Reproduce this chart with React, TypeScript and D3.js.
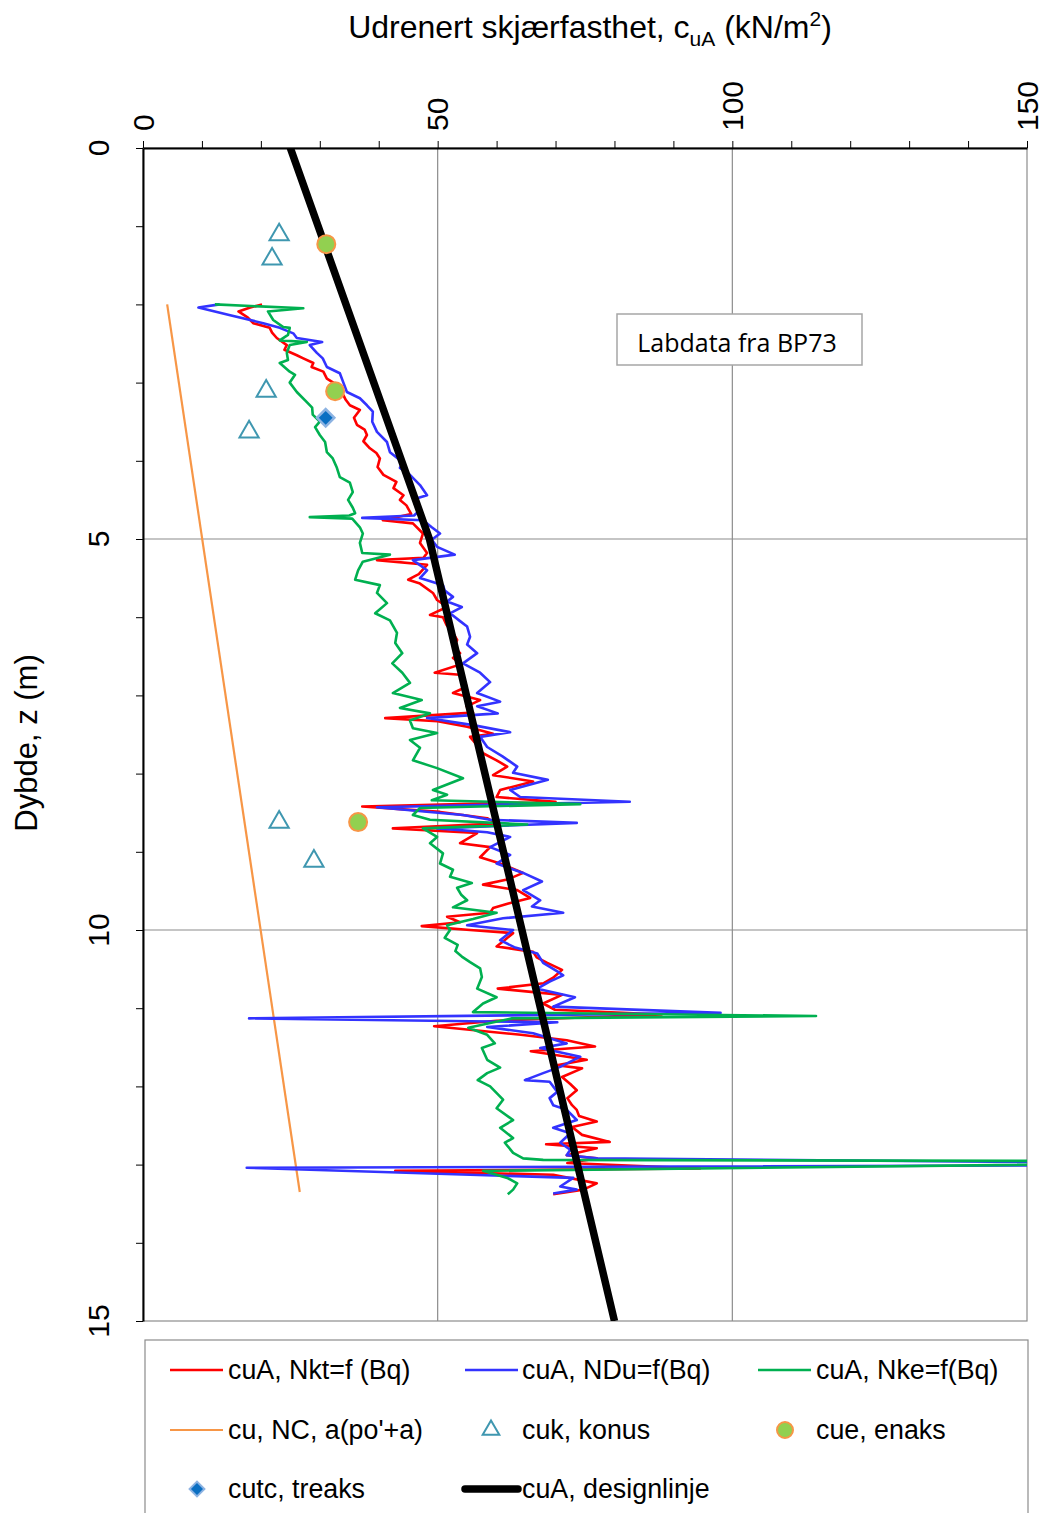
import React, { useRef, useEffect } from 'react'
import * as d3 from 'd3'

// depth (m), value (kN/m2)
const nktSeries: [number, number][] = [
  [2.00, 20.2], [2.04, 18.2], [2.09, 16.2], [2.17, 17.8], [2.24, 18.7], [2.30, 21.5], [2.36, 21.9], [2.43, 22.7],
  [2.52, 24.4], [2.58, 24.0], [2.65, 26.1], [2.69, 27.2], [2.75, 28.9], [2.80, 28.6], [2.86, 30.6], [2.95, 31.2],
  [3.03, 32.9], [3.10, 33.1], [3.16, 34.0], [3.22, 34.4], [3.29, 35.1], [3.35, 36.8], [3.45, 35.8], [3.54, 36.3],
  [3.60, 37.6], [3.67, 38.0], [3.75, 37.4], [3.84, 38.5], [3.90, 39.6], [3.97, 40.2], [4.08, 39.8], [4.18, 40.8],
  [4.27, 43.0], [4.35, 42.5], [4.44, 44.2], [4.50, 43.6], [4.57, 44.7], [4.68, 45.5], [4.76, 40.7], [4.80, 45.8],
  [4.93, 47.5], [5.05, 47.0], [5.18, 48.2], [5.24, 47.6], [5.27, 39.7], [5.33, 48.2], [5.45, 46.8], [5.52, 45.0],
  [5.57, 47.0], [5.69, 49.2], [5.78, 49.9], [5.87, 51.6], [5.97, 48.7], [6.00, 50.9], [6.10, 51.5], [6.20, 52.6],
  [6.29, 53.3], [6.38, 52.8], [6.46, 53.8], [6.52, 52.6], [6.60, 54.0], [6.71, 49.5], [6.74, 54.3], [6.89, 54.9],
  [6.97, 52.6], [7.06, 57.2], [7.14, 54.9], [7.22, 56.0], [7.29, 41.1], [7.33, 50.0], [7.40, 55.0], [7.49, 59.4],
  [7.53, 55.5], [7.62, 56.5], [7.74, 57.7], [7.83, 60.0], [7.91, 61.8], [8.02, 59.4], [8.10, 66.2], [8.21, 60.6],
  [8.30, 60.0], [8.36, 70.0], [8.42, 37.2], [8.49, 50.4], [8.57, 58.4], [8.64, 60.0], [8.70, 42.4], [8.76, 56.7],
  [8.89, 53.8], [8.94, 58.9], [9.07, 57.2], [9.15, 60.6], [9.27, 64.5], [9.35, 62.0], [9.42, 57.7], [9.49, 63.5],
  [9.59, 65.7], [9.66, 62.0], [9.72, 59.4], [9.78, 58.9], [9.83, 51.6], [9.90, 53.8], [9.95, 47.3], [10.00, 55.5],
  [10.04, 62.8], [10.12, 61.5], [10.21, 60.0], [10.28, 66.2], [10.35, 66.8], [10.42, 68.6], [10.51, 71.1], [10.61, 69.6],
  [10.68, 68.0], [10.75, 60.2], [10.83, 71.1], [10.94, 67.9], [11.02, 69.9], [11.08, 88.0], [11.16, 60.0], [11.23, 49.4],
  [11.34, 64.1], [11.41, 71.9], [11.49, 76.7], [11.55, 65.8], [11.66, 75.3], [11.73, 70.2], [11.77, 74.5], [11.88, 71.1],
  [11.97, 72.5], [12.05, 73.6], [12.15, 72.0], [12.24, 72.8], [12.30, 73.6], [12.38, 74.0], [12.45, 77.0], [12.52, 72.8],
  [12.62, 74.5], [12.71, 79.2], [12.74, 68.4], [12.79, 77.0], [12.88, 71.9], [12.92, 77.0], [12.98, 72.0], [13.05, 94.5],
  [13.08, 42.8], [13.13, 69.6], [13.24, 77.0], [13.32, 74.7], [13.38, 69.6],
]

const nduSeries: [number, number][] = [
  [2.00, 13.0], [2.04, 9.4], [2.14, 14.8], [2.24, 20.4], [2.30, 23.2], [2.37, 25.5], [2.43, 26.1], [2.48, 30.4],
  [2.52, 28.3], [2.62, 29.5], [2.69, 30.5], [2.80, 31.2], [2.88, 33.4], [3.00, 34.0], [3.12, 34.6], [3.20, 36.8],
  [3.29, 38.0], [3.37, 39.0], [3.50, 38.9], [3.63, 39.7], [3.76, 41.4], [3.89, 41.9], [4.02, 44.1], [4.09, 43.6],
  [4.18, 45.3], [4.31, 47.0], [4.44, 48.2], [4.48, 46.5], [4.63, 47.0], [4.70, 46.0], [4.73, 37.2], [4.76, 47.5],
  [4.85, 49.0], [4.93, 50.4], [5.01, 49.0], [5.10, 49.9], [5.20, 52.9], [5.27, 45.8], [5.40, 48.2], [5.50, 47.0],
  [5.59, 50.9], [5.66, 51.2], [5.74, 52.6], [5.80, 51.6], [5.87, 54.1], [5.95, 52.1], [6.05, 53.8], [6.12, 55.0],
  [6.25, 55.5], [6.35, 55.0], [6.46, 56.7], [6.59, 54.3], [6.71, 57.2], [6.83, 58.9], [6.97, 56.7], [7.08, 60.6],
  [7.14, 56.7], [7.23, 60.2], [7.29, 48.2], [7.38, 56.0], [7.47, 62.3], [7.53, 57.2], [7.66, 58.4], [7.78, 61.0],
  [7.91, 63.5], [7.99, 62.8], [8.08, 68.7], [8.21, 62.3], [8.30, 64.0], [8.36, 82.6], [8.43, 39.7], [8.53, 54.3],
  [8.59, 58.9], [8.63, 73.6], [8.70, 49.9], [8.75, 58.4], [8.81, 62.3], [8.94, 58.9], [9.04, 62.3], [9.15, 60.0],
  [9.27, 64.5], [9.38, 67.7], [9.49, 64.5], [9.62, 67.4], [9.70, 66.0], [9.78, 71.3], [9.85, 61.1], [9.94, 55.0],
  [10.00, 62.8], [10.13, 60.6], [10.22, 63.0], [10.30, 66.9], [10.42, 67.9], [10.53, 70.3], [10.58, 71.3], [10.66, 69.0],
  [10.75, 66.9], [10.86, 73.3], [10.98, 69.6], [11.06, 98.0], [11.13, 18.0], [11.18, 70.3], [11.24, 58.4], [11.32, 66.2],
  [11.45, 71.9], [11.51, 67.4], [11.62, 74.2], [11.75, 70.8], [11.83, 67.9], [11.92, 64.8], [11.94, 69.0], [12.07, 70.3],
  [12.15, 69.0], [12.24, 69.6], [12.30, 71.9], [12.43, 73.6], [12.53, 69.6], [12.60, 72.5], [12.72, 70.8], [12.81, 72.5],
  [12.88, 71.9], [12.92, 77.0], [13.00, 200], [13.04, 17.6], [13.17, 73.0], [13.28, 70.8], [13.32, 73.6], [13.37, 69.6],
]

const nkeSeries: [number, number][] = [
  [2.00, 12.2], [2.05, 27.2], [2.09, 21.2], [2.20, 22.1], [2.29, 23.8], [2.30, 24.9], [2.39, 24.6], [2.46, 23.2],
  [2.48, 27.8], [2.52, 24.9], [2.62, 24.4], [2.71, 24.6], [2.75, 23.2], [2.86, 24.9], [2.90, 25.8], [3.00, 24.9],
  [3.12, 26.1], [3.25, 27.8], [3.32, 28.7], [3.41, 28.8], [3.50, 30.0], [3.57, 29.2], [3.67, 30.0], [3.76, 30.9],
  [3.89, 31.2], [3.97, 32.2], [4.09, 32.9], [4.21, 33.4], [4.28, 35.1], [4.40, 35.6], [4.50, 34.8], [4.60, 35.6],
  [4.67, 36.0], [4.70, 35.0], [4.72, 28.3], [4.74, 35.5], [4.85, 36.8], [4.93, 37.3], [5.05, 36.8], [5.18, 37.2],
  [5.20, 41.9], [5.29, 37.3], [5.40, 36.5], [5.52, 36.0], [5.59, 40.2], [5.69, 39.7], [5.82, 41.4], [5.95, 39.4],
  [6.04, 41.9], [6.12, 42.5], [6.20, 43.1], [6.33, 42.8], [6.46, 44.0], [6.59, 42.3], [6.71, 44.0], [6.84, 45.3],
  [6.97, 42.4], [7.06, 47.3], [7.16, 43.6], [7.23, 48.7], [7.32, 45.3], [7.42, 45.8], [7.48, 49.9], [7.57, 45.3],
  [7.67, 47.0], [7.83, 45.8], [7.93, 49.9], [8.06, 54.3], [8.21, 49.2], [8.27, 51.6], [8.34, 49.0], [8.39, 74.2],
  [8.44, 47.0], [8.53, 45.8], [8.59, 48.7], [8.65, 65.2], [8.70, 47.5], [8.81, 49.9], [8.89, 48.7], [9.02, 50.9],
  [9.15, 50.4], [9.23, 52.6], [9.32, 52.1], [9.40, 55.8], [9.46, 53.3], [9.55, 54.0], [9.62, 55.0], [9.71, 52.6],
  [9.78, 60.0], [9.86, 56.0], [9.94, 51.6], [10.00, 52.1], [10.10, 51.2], [10.19, 53.4], [10.27, 53.0], [10.34, 54.1],
  [10.41, 55.5], [10.49, 57.2], [10.60, 57.5], [10.75, 56.7], [10.86, 60.0], [10.94, 57.7], [11.05, 56.0], [11.10, 114.2],
  [11.13, 62.6], [11.25, 55.2], [11.34, 58.4], [11.45, 59.7], [11.51, 57.5], [11.66, 58.4], [11.76, 60.6], [11.83, 58.4],
  [11.92, 56.8], [12.00, 58.9], [12.13, 60.6], [12.17, 61.1], [12.28, 60.0], [12.43, 62.8], [12.53, 60.6], [12.66, 62.8],
  [12.72, 61.4], [12.85, 62.8], [12.92, 64.5], [12.94, 67.9], [12.96, 200], [13.08, 57.7], [13.17, 61.8], [13.24, 63.5],
  [13.32, 62.8], [13.38, 61.9],
]

const ncSeries: [number, number][] = [[2.0, 4.1], [13.35, 26.6]]
const designSeries: [number, number][] = [[0, 25], [5, 48.6], [15, 80]]

const cukDepth = [1.11, 1.42, 3.11, 3.63, 8.62, 9.12]
const cukValue = [23.1, 21.9, 20.9, 18.0, 23.1, 29.0]
const cueDepth = [1.23, 3.11, 8.62]
const cueValue = [31.1, 32.6, 36.5]
const cutcDepth = [3.45]
const cutcValue = [31.0]

const xTicks = [0, 50, 100, 150]
const yTicks = [0, 5, 10, 15]

const W = 1043, H = 1513
const FONT = "'Liberation Sans', Arial, sans-serif"

const App = () => {
  const ref = useRef<SVGSVGElement>(null)

  useEffect(() => {
    const svg = d3.select(ref.current)
    svg.selectAll('*').remove()

    const x = d3.scaleLinear().domain([0, 150]).range([143, 1027])
    const y = d3.scaleLinear().domain([0, 15]).range([148, 1321])

    svg.append('rect').attr('width', W).attr('height', H).attr('fill', '#fff')

    svg.append('defs').append('clipPath').attr('id', 'plotclip')
      .append('rect').attr('x', x(0)).attr('y', y(0))
      .attr('width', x(150) - x(0)).attr('height', y(15) - y(0))

    // grid
    svg.append('g').selectAll('line').data([50, 100]).join('line')
      .attr('x1', d => x(d)).attr('x2', d => x(d)).attr('y1', y(0)).attr('y2', y(15))
      .attr('stroke', '#8c8c8c').attr('stroke-width', 1.2)
    svg.append('g').selectAll('line').data([5, 10]).join('line')
      .attr('x1', x(0)).attr('x2', x(150)).attr('y1', d => y(d)).attr('y2', d => y(d))
      .attr('stroke', '#8c8c8c').attr('stroke-width', 1.2)
    svg.append('rect').attr('x', x(0)).attr('y', y(0))
      .attr('width', x(150) - x(0)).attr('height', y(15) - y(0))
      .attr('fill', 'none').attr('stroke', '#8c8c8c').attr('stroke-width', 1.2)

    // axes
    const gx = svg.append('g').attr('transform', `translate(0,${y(0)})`)
      .call(d3.axisTop(x).tickValues(d3.range(0, 151, 10)).tickSize(7).tickSizeOuter(0).tickFormat(() => ''))
    const gy = svg.append('g').attr('transform', `translate(${x(0)},0)`)
      .call(d3.axisLeft(y).tickValues(d3.range(0, 16, 1)).tickSize(7).tickSizeOuter(0).tickFormat(() => ''))
    ;[gx, gy].forEach(g => {
      g.select('.domain').attr('stroke', '#000').attr('stroke-width', 2)
      g.selectAll('.tick line').attr('stroke', '#000').attr('stroke-width', 1)
    })

    svg.append('g').selectAll('text').data(xTicks).join('text')
      .attr('transform', d => `translate(${x(d)},131) rotate(-90)`)
      .attr('dominant-baseline', 'central')
      .attr('font-family', FONT).attr('font-size', 30).text(d => d)
    svg.append('g').selectAll('text').data(yTicks).join('text')
      .attr('transform', d => `translate(98,${y(d)}) rotate(-90)`)
      .attr('text-anchor', 'middle').attr('dominant-baseline', 'central')
      .attr('font-family', FONT).attr('font-size', 30).text(d => d)

    // titles
    const t = svg.append('text').attr('x', 590).attr('y', 38).attr('text-anchor', 'middle')
      .attr('font-family', FONT).attr('font-size', 32)
    t.append('tspan').text('Udrenert skjærfasthet, c')
    t.append('tspan').attr('font-size', 21).attr('dy', 8).text('uA')
    t.append('tspan').attr('dy', -8).text(' (kN/m')
    t.append('tspan').attr('font-size', 21).attr('dy', -12).text('2')
    t.append('tspan').attr('dy', 12).text(')')

    svg.append('text').attr('transform', 'translate(26,743) rotate(-90)')
      .attr('text-anchor', 'middle').attr('dominant-baseline', 'central')
      .attr('font-family', FONT).attr('font-size', 31).text('Dybde, z (m)')

    // series
    const line = d3.line<[number, number]>().x(d => x(d[1])).y(d => y(d[0]))
    const plot = svg.append('g').attr('clip-path', 'url(#plotclip)')
    plot.append('path').attr('d', line(ncSeries)).attr('fill', 'none')
      .attr('stroke', '#f79646').attr('stroke-width', 2.2)
    const series: [[number, number][], string][] = [
      [nktSeries, '#ff0000'], [nduSeries, '#3333ff'], [nkeSeries, '#00b050'],
    ]
    series.forEach(([data, color]) => {
      plot.append('path').attr('d', line(data)).attr('fill', 'none')
        .attr('stroke', color).attr('stroke-width', 2.6).attr('stroke-linejoin', 'round')
    })

    const tri = d3.symbol(d3.symbolTriangle, 160)
    const sq = d3.symbol(d3.symbolSquare, 150)
    plot.append('g').selectAll('path').data(cukDepth).join('path')
      .attr('transform', (d, i) => `translate(${x(cukValue[i])},${y(d)})`)
      .attr('d', tri()).attr('fill', 'none').attr('stroke', '#3f97b0').attr('stroke-width', 2)
    plot.append('g').selectAll('path').data(cutcDepth).join('path')
      .attr('transform', (d, i) => `translate(${x(cutcValue[i])},${y(d)}) rotate(45)`)
      .attr('d', sq()).attr('fill', '#0a6fc2').attr('stroke', '#8db3e2').attr('stroke-width', 2.5)

    plot.append('path').attr('d', line(designSeries)).attr('fill', 'none')
      .attr('stroke', '#000').attr('stroke-width', 7.5)

    plot.append('g').selectAll('circle').data(cueDepth).join('circle')
      .attr('cx', (d, i) => x(cueValue[i])).attr('cy', d => y(d)).attr('r', 9)
      .attr('fill', '#92d050').attr('stroke', '#f79646').attr('stroke-width', 2)

    // label box
    svg.append('rect').attr('x', 617).attr('y', 314).attr('width', 245).attr('height', 51)
      .attr('fill', '#fff').attr('stroke', '#a6a6a6').attr('stroke-width', 1.5)
    svg.append('text').attr('x', 737).attr('y', 342).attr('text-anchor', 'middle')
      .attr('dominant-baseline', 'central').attr('font-family', "'Open Sans', 'Noto Sans', sans-serif")
      .attr('font-size', 25).text('Labdata fra BP73')

    // legend
    svg.append('rect').attr('x', 145).attr('y', 1340).attr('width', 883).attr('height', 200)
      .attr('fill', '#fff').attr('stroke', '#8c8c8c').attr('stroke-width', 1.2)
    const lg = svg.append('g').attr('font-family', FONT).attr('font-size', 26.8)
    const items = [
      { label: 'cuA, Nkt=f (Bq)', kind: 'line', color: '#ff0000', w: 2.6, lx: 170, tx: 228, ly: 1370 },
      { label: 'cuA, NDu=f(Bq)', kind: 'line', color: '#3333ff', w: 2.6, lx: 465, tx: 522, ly: 1370 },
      { label: 'cuA, Nke=f(Bq)', kind: 'line', color: '#00b050', w: 2.6, lx: 758, tx: 816, ly: 1370 },
      { label: "cu, NC, a(po'+a)", kind: 'line', color: '#f79646', w: 2.2, lx: 170, tx: 228, ly: 1430 },
      { label: 'cuk, konus', kind: 'tri', color: '#3f97b0', w: 2, lx: 491, tx: 522, ly: 1430 },
      { label: 'cue, enaks', kind: 'circle', color: '#92d050', w: 2, lx: 785, tx: 816, ly: 1430 },
      { label: 'cutc, treaks', kind: 'diamond', color: '#0a6fc2', w: 2, lx: 197, tx: 228, ly: 1489 },
      { label: 'cuA, designlinje', kind: 'line', color: '#000', w: 7.5, lx: 465, tx: 522, ly: 1489 },
    ]
    items.forEach(it => {
      if (it.kind === 'line') {
        lg.append('line').attr('x1', it.lx).attr('x2', it.lx + 53).attr('y1', it.ly).attr('y2', it.ly)
          .attr('stroke', it.color).attr('stroke-width', it.w).attr('stroke-linecap', it.w > 5 ? 'round' : 'butt')
      } else if (it.kind === 'tri') {
        lg.append('path').attr('transform', `translate(${it.lx},${it.ly})`).attr('d', d3.symbol(d3.symbolTriangle, 120)())
          .attr('fill', 'none').attr('stroke', it.color).attr('stroke-width', 2)
      } else if (it.kind === 'circle') {
        lg.append('circle').attr('cx', it.lx).attr('cy', it.ly).attr('r', 8)
          .attr('fill', it.color).attr('stroke', '#f79646').attr('stroke-width', 2)
      } else {
        lg.append('path').attr('transform', `translate(${it.lx},${it.ly}) rotate(45)`).attr('d', d3.symbol(d3.symbolSquare, 110)())
          .attr('fill', it.color).attr('stroke', '#8db3e2').attr('stroke-width', 2)
      }
      lg.append('text').attr('x', it.tx).attr('y', it.ly).attr('dominant-baseline', 'central').text(it.label)
    })
  }, [])

  return (
    <div style={{ position: 'absolute', left: 0, top: 0, width: W, height: H, overflow: 'hidden', background: '#fff' }}>
      <svg ref={ref} width={W} height={H} style={{ display: 'block' }}></svg>
    </div>
  )
}

export default App
